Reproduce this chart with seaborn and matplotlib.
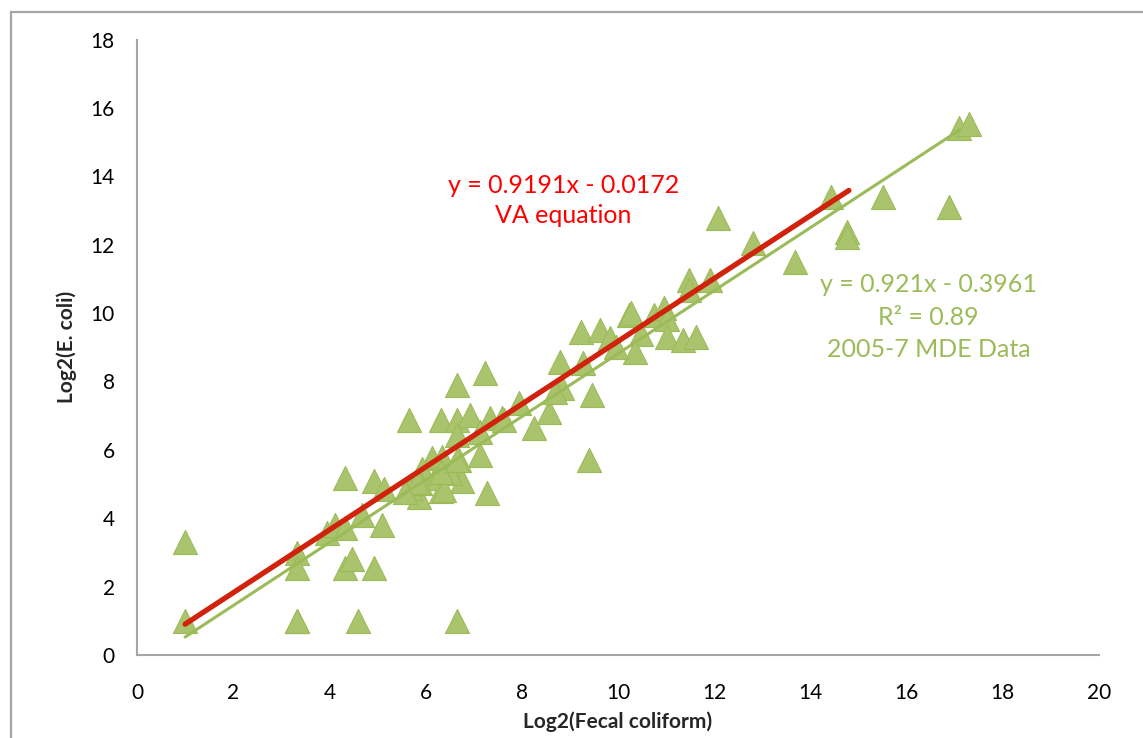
import numpy as np
import pandas as pd
import matplotlib
matplotlib.use("Agg")
import matplotlib.pyplot as plt
import seaborn as sns
from matplotlib.patches import Rectangle

# ---- data ----
fecal_log2 = [
    1.0, 1.0, 3.32, 3.32, 3.32, 3.32, 4.59, 6.65,
    4.33, 4.48, 4.92, 4.33, 4.92, 5.13, 5.10, 3.95, 4.12, 4.33, 4.68,
    5.65, 6.31, 6.65, 6.65, 6.65, 7.24, 6.93, 7.33, 7.59, 7.14, 7.14, 7.28,
    6.31, 5.87, 5.68, 6.13, 6.34, 5.92, 6.58, 6.75, 6.69, 6.20, 6.51, 5.89,
    5.82, 6.38, 5.58, 6.31, 6.65,
    9.24, 9.62, 9.84, 10.22, 10.75, 10.95, 11.02, 10.47, 10.36, 9.95, 11.02,
    11.35, 11.63, 8.80, 9.27, 8.84, 9.46, 7.94, 8.56, 8.25, 7.62, 9.39, 8.70,
    10.26,
    11.47, 11.91, 11.47, 12.08, 12.80, 14.42, 15.50, 16.88, 14.77, 14.77,
    13.67, 17.09, 17.30,
]
ecoli_log2 = [
    3.3, 1.0, 1.0, 1.0, 2.97, 2.55, 1.0, 1.0,
    2.55, 2.8, 2.55, 5.17, 5.1, 4.85, 3.8, 3.56, 3.8, 3.7, 4.1,
    6.88, 6.88, 7.9, 6.88, 6.42, 8.24, 7.02, 6.92, 6.92, 6.53, 5.85, 4.73,
    4.8, 4.63, 4.87, 5.75, 5.78, 5.44, 5.46, 5.1, 5.7, 5.17, 5.31, 5.02,
    5.07, 4.82, 4.78, 5.36, 5.7,
    9.45, 9.5, 9.26, 9.94, 9.94, 10.14, 9.84, 9.4, 8.87, 9.01, 9.31,
    9.21, 9.31, 8.58, 8.53, 7.8, 7.6, 7.36, 7.11, 6.63, 6.87, 5.7, 7.7,
    9.99,
    10.96, 10.96, 10.67, 12.77, 12.04, 13.4, 13.4, 13.1, 12.38, 12.23,
    11.5, 15.4, 15.54,
]

va_slope, va_intercept = 0.9191, -0.0172
va_x_range = [1.0, 14.8]
mde_slope, mde_intercept = 0.921, -0.3961
mde_x_range = [1.0, 17.1]

x_ticks = [0, 2, 4, 6, 8, 10, 12, 14, 16, 18, 20]
y_ticks = [0, 2, 4, 6, 8, 10, 12, 14, 16, 18]

df = pd.DataFrame({"fc": fecal_log2, "ec": ecoli_log2})
va_df = pd.DataFrame({"x": va_x_range,
                      "y": [va_slope * v + va_intercept for v in va_x_range]})
mde_df = pd.DataFrame({"x": mde_x_range,
                       "y": [mde_slope * v + mde_intercept for v in mde_x_range]})

# ---- styling ----
sns.set_theme(style="white")
plt.rcParams["font.family"] = ["Lato", "DejaVu Sans"]

GREEN = "#9bbb59"
GREEN_FILL = "#a9c46c"
RED = "#d0220c"
AXIS_GRAY = "#a6a6a6"

fig = plt.figure(figsize=(11.43, 7.38), dpi=100)
ax = fig.add_axes([137 / 1143, 1 - 655 / 738, (1099 - 137) / 1143, (655 - 39.5) / 738])

sns.scatterplot(data=df, x="fc", y="ec", marker="^", s=300, color=GREEN_FILL,
                edgecolor=GREEN, linewidth=0.8, ax=ax, zorder=2, legend=False)
sns.lineplot(data=mde_df, x="x", y="y", color=GREEN, linewidth=2.2, ax=ax,
             zorder=3, legend=False)
sns.lineplot(data=va_df, x="x", y="y", color=RED, linewidth=3.8, ax=ax,
             zorder=4, legend=False, solid_capstyle="round")

ax.set_xlim(0, 20)
ax.set_ylim(0, 18)
ax.set_xticks(x_ticks)
ax.set_yticks(y_ticks)
ax.tick_params(axis="both", which="major", direction="out", length=6, width=1.2,
               color=AXIS_GRAY, labelsize=15, labelcolor="black")
ax.tick_params(axis="x", pad=14)
ax.tick_params(axis="y", pad=10)
for side in ["top", "right"]:
    ax.spines[side].set_visible(False)
for side in ["left", "bottom"]:
    ax.spines[side].set_color(AXIS_GRAY)
    ax.spines[side].set_linewidth(1.5)

ax.set_xlabel("Log2(Fecal coliform)", fontsize=15, fontweight="bold", labelpad=6)
ax.set_ylabel("Log2(E. coli)", fontsize=15, fontweight="bold", labelpad=10)

ax.text(8.87, 13.3, "y = 0.9191x - 0.0172\nVA equation", color="#ff0000",
        fontsize=18, ha="center", va="center", linespacing=1.35)
ax.text(16.46, 9.88, "y = 0.921x - 0.3961\nR² = 0.89\n2005-7 MDE Data", color=GREEN,
        fontsize=18, ha="center", va="center", linespacing=1.5)

# chart area border
fig.patches.append(Rectangle((11 / 1143, -0.1), 1.2, 1 - 12 / 738 + 0.1,
                             transform=fig.transFigure, fill=False,
                             edgecolor=AXIS_GRAY, linewidth=1.6, zorder=0))

fig.savefig("out.png", dpi=100)
